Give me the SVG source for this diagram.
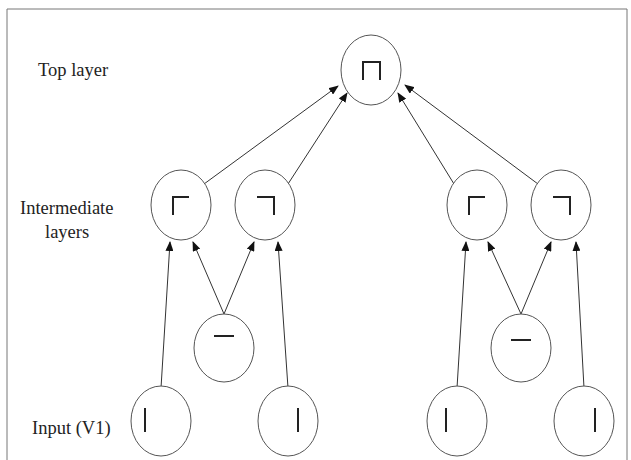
<svg xmlns="http://www.w3.org/2000/svg" width="631" height="460" viewBox="0 0 631 460">
<style>
.n{fill:#fff;stroke:#555;stroke-width:1}
.g{fill:none;stroke:#222;stroke-width:2}
.c line{stroke:#333;stroke-width:1;marker-end:url(#a)}
text{font-family:"Liberation Serif","Times New Roman",serif;font-size:18.5px;fill:#222}
</style>
<defs><marker id="a" markerWidth="10" markerHeight="8" refX="9" refY="4" orient="auto" markerUnits="userSpaceOnUse"><path d="M0,0L10,4L0,8z" fill="#111"/></marker></defs>
<rect width="631" height="460" fill="#fff"/>
<path d="M7,460V9H627V460" fill="none" stroke="#777" stroke-width="1"/>
<text x="38" y="76">Top layer</text>
<text x="20" y="214">Intermediate</text>
<text x="45" y="238">layers</text>
<text x="32" y="434">Input (V1)</text>
<g class="c">
<line x1="204" y1="184" x2="338" y2="86"/>
<line x1="288" y1="184" x2="347" y2="93"/>
<line x1="454" y1="184" x2="398" y2="93"/>
<line x1="538" y1="184" x2="405" y2="85"/>
<line x1="161" y1="388" x2="170" y2="242"/>
<line x1="224" y1="314" x2="193" y2="242"/>
<line x1="224" y1="314" x2="254" y2="242"/>
<line x1="288" y1="388" x2="278" y2="242"/>
<line x1="457" y1="388" x2="466" y2="242"/>
<line x1="521" y1="314" x2="488" y2="242"/>
<line x1="521" y1="314" x2="551" y2="242"/>
<line x1="584" y1="388" x2="576" y2="242"/>
</g>
<g id="top"><ellipse class="n" cx="371" cy="70" rx="30" ry="35"/><path class="g" d="M363,80V62H380V80"/></g>
<g id="i1"><ellipse class="n" cx="181" cy="205" rx="30" ry="35"/><path class="g" d="M173,215V197H189"/></g>
<g id="i2"><ellipse class="n" cx="265" cy="205" rx="30" ry="35"/><path class="g" d="M257,197H274V215"/></g>
<g id="i3"><ellipse class="n" cx="477" cy="205" rx="30" ry="35"/><path class="g" d="M469,215V197H485"/></g>
<g id="i4"><ellipse class="n" cx="561" cy="205" rx="30" ry="35"/><path class="g" d="M553,197H570V215"/></g>
<g id="h1"><ellipse class="n" cx="224" cy="348" rx="30" ry="34"/><path class="g" d="M214,336H234"/></g>
<g id="h2"><ellipse class="n" cx="521" cy="348" rx="30" ry="34"/><path class="g" d="M511,340H531"/></g>
<g id="v1"><ellipse class="n" cx="161" cy="421" rx="30" ry="35"/><path class="g" d="M145,408V432"/></g>
<g id="v2"><ellipse class="n" cx="288" cy="421" rx="30" ry="35"/><path class="g" d="M298,408V432"/></g>
<g id="v3"><ellipse class="n" cx="457" cy="421" rx="30" ry="35"/><path class="g" d="M446,408V432"/></g>
<g id="v4"><ellipse class="n" cx="584" cy="421" rx="30" ry="35"/><path class="g" d="M595,408V432"/></g>
</svg>
